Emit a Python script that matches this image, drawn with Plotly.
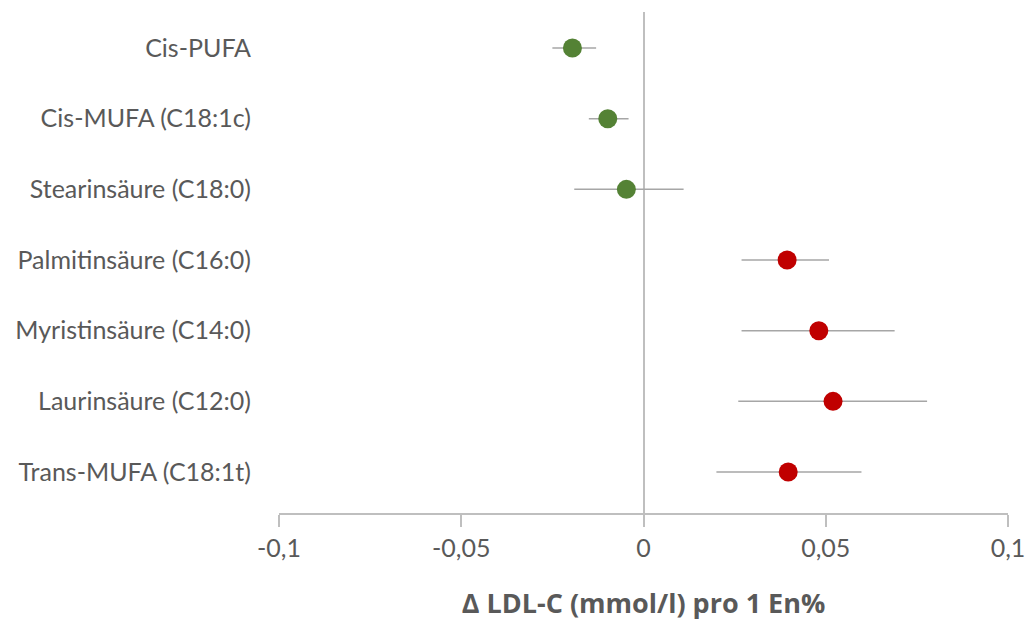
import plotly.graph_objects as go

categories = ["Cis-PUFA", "Cis-MUFA (C18:1c)", "Stearinsäure (C18:0)",
              "Palmitinsäure (C16:0)", "Myristinsäure (C14:0)",
              "Laurinsäure (C12:0)", "Trans-MUFA (C18:1t)"]
estimate = [-0.0195, -0.0098, -0.0047, 0.0394, 0.0481, 0.0520, 0.0397]
ci_low = [-0.0250, -0.0150, -0.0190, 0.0269, 0.0269, 0.0260, 0.0200]
ci_high = [-0.0130, -0.0041, 0.0110, 0.0509, 0.0689, 0.0778, 0.0598]
colors = ["#548235", "#548235", "#548235", "#C00000", "#C00000", "#C00000", "#C00000"]
x_ticks = [-0.1, -0.05, 0, 0.05, 0.1]
x_tick_labels = ["-0,1", "-0,05", "0", "0,05", "0,1"]

plus = [h - e for h, e in zip(ci_high, estimate)]
minus = [e - l for e, l in zip(estimate, ci_low)]

font_family = "Lato, 'Open Sans', sans-serif"
title_family = "'Open Sans', Lato, sans-serif"
text_color = "#595959"
grey = "#BFBFBF"

fig = go.Figure()
fig.add_trace(go.Scatter(
    x=estimate, y=categories, mode="markers",
    marker=dict(size=19, color=colors, line=dict(width=0)),
    error_x=dict(type="data", symmetric=False, array=plus, arrayminus=minus,
                 color="#A6A6A6", thickness=1.5, width=0),
    showlegend=False, hoverinfo="x+y",
))

fig.update_layout(
    width=1027, height=621,
    paper_bgcolor="white", plot_bgcolor="white",
    margin=dict(l=279, r=19, t=12, b=108, autoexpand=False),
    font=dict(family=font_family, color=text_color, size=25),
    xaxis=dict(
        range=[-0.1, 0.1], tickvals=x_ticks, ticktext=x_tick_labels,
        automargin=False,
        showgrid=False, zeroline=True, zerolinecolor=grey, zerolinewidth=1.5,
        showline=True, linecolor=grey, linewidth=1.5,
        ticks="outside", ticklen=12, tickcolor=grey, tickwidth=1.5,
        tickfont=dict(size=25, color=text_color, family=font_family),
        title=dict(text="<b>Δ LDL-C (mmol/l) pro 1 En%</b>",
                   font=dict(size=27, color=text_color, family=title_family),
                   standoff=34),
    ),
    yaxis=dict(
        type="category", range=[6.58, -0.51], autorange=False,
        automargin=False,
        showgrid=False, zeroline=False, showline=False, ticks="",
        ticklabelstandoff=27,
        tickfont=dict(size=25, color=text_color, family=font_family),
    ),
)

fig.write_html("out.html", config={"displayModeBar": False},
               post_script="document.body.style.margin='0';document.body.style.overflow='hidden';")
